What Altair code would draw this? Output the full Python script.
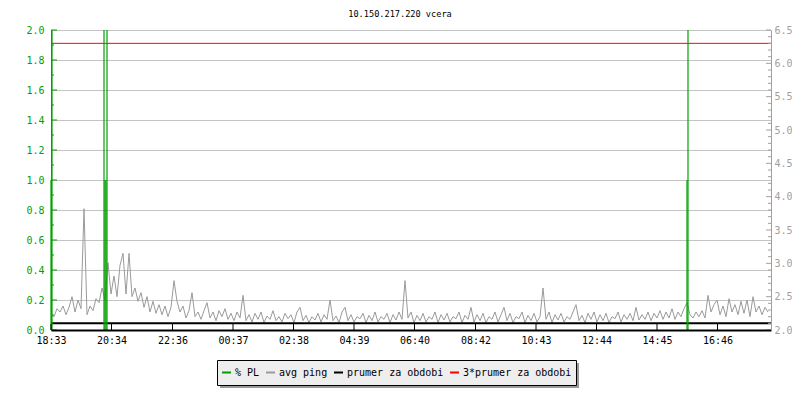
import altair as alt
import pandas as pd

# ---------------- data ----------------
title_text = "10.150.217.220 vcera"
series_names = ["% PL", "avg ping", "prumer za obdobi", "3*prumer za obdobi"]
series_colors = ["#00a000", "#9a9a9a", "#000000", "#ff0000"]

x_tick_minutes = [0, 121, 243, 364, 485, 606, 727, 849, 970, 1091, 1212, 1333]
x_tick_labels = ["18:33", "20:34", "22:36", "00:37", "02:38", "04:39",
                 "06:40", "08:42", "10:43", "12:44", "14:45", "16:46"]

ping_step_min = 6
ping_ms = [
    2.23, 2.20, 2.32, 2.27, 2.36, 2.23, 2.34, 2.50, 2.27, 2.45, 2.32, 3.82,
    2.23, 2.36, 2.29, 2.47, 2.41, 2.63, 2.45, 3.01, 2.54, 2.81, 2.50, 2.97,
    3.15, 2.54, 3.15, 2.50, 2.63, 2.43, 2.56, 2.34, 2.50, 2.27, 2.43, 2.25,
    2.38, 2.23, 2.36, 2.20, 2.34, 2.74, 2.43, 2.27, 2.36, 2.18, 2.29, 2.56,
    2.20, 2.27, 2.16, 2.29, 2.41, 2.18, 2.27, 2.14, 2.29, 2.20, 2.32, 2.16,
    2.25, 2.14, 2.27, 2.18, 2.52, 2.14, 2.23, 2.12, 2.25, 2.16, 2.27, 2.11,
    2.21, 2.16, 2.29, 2.14, 2.20, 2.12, 2.25, 2.17, 2.23, 2.11, 2.27, 2.34,
    2.14, 2.22, 2.11, 2.20, 2.15, 2.25, 2.12, 2.23, 2.16, 2.45, 2.14, 2.21,
    2.11, 2.27, 2.34, 2.14, 2.23, 2.12, 2.20, 2.17, 2.25, 2.11, 2.22, 2.14,
    2.27, 2.12, 2.20, 2.16, 2.25, 2.11, 2.23, 2.15, 2.27, 2.16, 2.74, 2.18,
    2.27, 2.11, 2.22, 2.14, 2.25, 2.12, 2.20, 2.16, 2.27, 2.11, 2.23, 2.15,
    2.25, 2.12, 2.20, 2.17, 2.27, 2.11, 2.22, 2.16, 2.34, 2.12, 2.23, 2.14,
    2.25, 2.11, 2.20, 2.16, 2.27, 2.12, 2.23, 2.34, 2.14, 2.25, 2.11, 2.20,
    2.17, 2.27, 2.11, 2.22, 2.14, 2.25, 2.12, 2.20, 2.63, 2.16, 2.27, 2.11,
    2.23, 2.15, 2.25, 2.12, 2.20, 2.16, 2.27, 2.38, 2.14, 2.22, 2.11, 2.25,
    2.16, 2.27, 2.12, 2.23, 2.14, 2.25, 2.11, 2.20, 2.17, 2.27, 2.12, 2.23,
    2.16, 2.25, 2.14, 2.34, 2.15, 2.23, 2.16, 2.27, 2.14, 2.25, 2.18, 2.29,
    2.16, 2.27, 2.18, 2.32, 2.16, 2.27, 2.20, 2.32, 2.41, 2.23, 2.18, 2.27,
    2.20, 2.29, 2.18, 2.52, 2.27, 2.38, 2.45, 2.23, 2.36, 2.20, 2.47, 2.27,
    2.38, 2.23, 2.43, 2.25, 2.45, 2.20, 2.50, 2.27, 2.36, 2.23, 2.34, 2.27,
]

pl_minutes = [0, 2, 106, 108, 110, 112, 1272, 1274]
pl_values = [1.0, 2.0, 2.0, 1.0, 1.0, 2.0, 1.0, 2.0]

prumer_ms = 2.10
prumer3_ms = 6.30

left_major = [0.0, 0.2, 0.4, 0.6, 0.8, 1.0, 1.2, 1.4, 1.6, 1.8, 2.0]
left_minor = [0.1, 0.3, 0.5, 0.7, 0.9, 1.1, 1.3, 1.5, 1.7, 1.9]
right_major = [2.0, 2.5, 3.0, 3.5, 4.0, 4.5, 5.0, 5.5, 6.0, 6.5]
right_minor = [round(2.0 + 0.1 * i, 1) for i in range(46) if i % 5 != 0]

# ---------------- tables ----------------
ping_df = pd.DataFrame({"t": [ping_step_min * i for i in range(len(ping_ms))],
                        "v": ping_ms, "s": "avg ping"})
pl_df = pd.DataFrame({"t": pl_minutes, "v": pl_values, "v0": 0.0, "s": "% PL"})
avg_df = pd.DataFrame({"v": [prumer_ms], "s": ["prumer za obdobi"]})
avg3_df = pd.DataFrame({"v": [prumer3_ms], "s": ["3*prumer za obdobi"]})
lmaj_df = pd.DataFrame({"v": left_major})
lmin_df = pd.DataFrame({"v": left_minor})
rmaj_df = pd.DataFrame({"v": right_major})
rmin_df = pd.DataFrame({"v": right_minor})
xt_df = pd.DataFrame({"t": x_tick_minutes})
one_df = pd.DataFrame({"a": [0]})
title_df = pd.DataFrame({"label": [title_text]})

FONT = "DejaVu Sans Mono"
GREEN = series_colors[0]
RGRAY = "#a0a0a0"
W, H = 720, 300

label_expr = "[" + ",".join(f"'{l}'" for l in x_tick_labels) + "][indexof([" + \
    ",".join(str(m) for m in x_tick_minutes) + "], datum.value)]"

x_axis = alt.Axis(values=x_tick_minutes, labelExpr=label_expr, ticks=False, tickSize=0,
                  domainColor="#000000", domainWidth=2, labelFont=FONT, labelFontSize=10,
                  labelColor="#000000", labelPadding=5, labelFlush=False, labelOverlap=False,
                  grid=False, zindex=1)
x_enc = alt.X("t:Q", scale=alt.Scale(domain=[0, 1440], nice=False, zero=False),
              axis=x_axis, title=None)

left_axis = alt.Axis(orient="left", values=left_major, format=".1f", ticks=False, tickSize=0,
                     labelColor=GREEN, domainColor=GREEN, domainWidth=1, grid=True,
                     gridColor="#c4c4c4", gridWidth=1, labelFont=FONT, labelFontSize=10,
                     labelPadding=7, zindex=0)
y_left = alt.Y("v:Q", scale=alt.Scale(domain=[0, 2], nice=False, zero=False),
               axis=left_axis, title=None)

right_axis = alt.Axis(orient="right", values=right_major, format=".1f", ticks=False, tickSize=0,
                      labelColor=RGRAY, domainColor=RGRAY, domainWidth=1, grid=False,
                      labelFont=FONT, labelFontSize=10, labelPadding=3, zindex=1)
y_right = alt.Y("v:Q", scale=alt.Scale(domain=[2.0, 6.5], nice=False, zero=False),
                axis=right_axis, title=None)

legend = alt.Legend(orient="none", legendX=166, legendY=330, direction="horizontal",
                    fillColor="#eeeeee", strokeColor="#000000", padding=4, clipHeight=17,
                    symbolType="stroke", symbolSize=81, symbolStrokeWidth=2,
                    labelFont=FONT, labelFontSize=10, labelColor="#000000",
                    labelOffset=3, columnPadding=5, cornerRadius=0)
color = alt.Color("s:N", scale=alt.Scale(domain=series_names, range=series_colors),
                  legend=legend, title=None)

# ---------------- right (ping) layer ----------------
ping_line = alt.Chart(ping_df).mark_line(strokeWidth=1).encode(x=x_enc, y=y_right, color=color)
avg_rule = alt.Chart(avg_df).mark_rule(strokeWidth=2).encode(y=y_right, color=color)
avg3_rule = alt.Chart(avg3_df).mark_rule(strokeWidth=1).encode(y=y_right, color=color)
rmaj = alt.Chart(rmaj_df).mark_rule(color=RGRAY, strokeWidth=1).encode(
    y=y_right, x=alt.value(W), x2=alt.value(W - 5))
rmin = alt.Chart(rmin_df).mark_rule(color=RGRAY, strokeWidth=1).encode(
    y=y_right, x=alt.value(W), x2=alt.value(W - 3))
right_layer = alt.layer(ping_line, avg_rule, avg3_rule, rmaj, rmin)

# ---------------- left (PL) layer ----------------
pl_rules = alt.Chart(pl_df).mark_rule(strokeWidth=1.2).encode(
    x=x_enc, y=y_left, y2="v0:Q", color=color)
lmaj = alt.Chart(lmaj_df).mark_rule(color=GREEN, strokeWidth=1).encode(
    y=y_left, x=alt.value(0), x2=alt.value(6))
lmin = alt.Chart(lmin_df).mark_rule(color=GREEN, strokeWidth=1).encode(
    y=y_left, x=alt.value(0), x2=alt.value(3))
xticks = alt.Chart(xt_df).mark_rule(color="#000000", strokeWidth=1).encode(
    x=x_enc, y=alt.value(H), y2=alt.value(H - 6))
shadow = alt.Chart(one_df).mark_rect(color="#999999").encode(
    x=alt.value(169), x2=alt.value(528), y=alt.value(333), y2=alt.value(358))
title_mark = alt.Chart(title_df).mark_text(
    font=FONT, fontSize=8.6, color="#000000", align="center", baseline="alphabetic"
).encode(text="label:N", x=alt.value(349), y=alt.value(-13))
left_layer = alt.layer(shadow, pl_rules, lmaj, lmin, xticks, title_mark)

chart = alt.layer(right_layer, left_layer).resolve_scale(y="independent").properties(
    width=W, height=H,
    autosize=alt.AutoSizeParams(type="none"),
    padding={"left": 43, "top": 22, "right": 21, "bottom": 62},
    background="#ffffff",
).configure_view(strokeWidth=0)

chart.save("out.html", embed_options={"renderer": "svg", "actions": False})
